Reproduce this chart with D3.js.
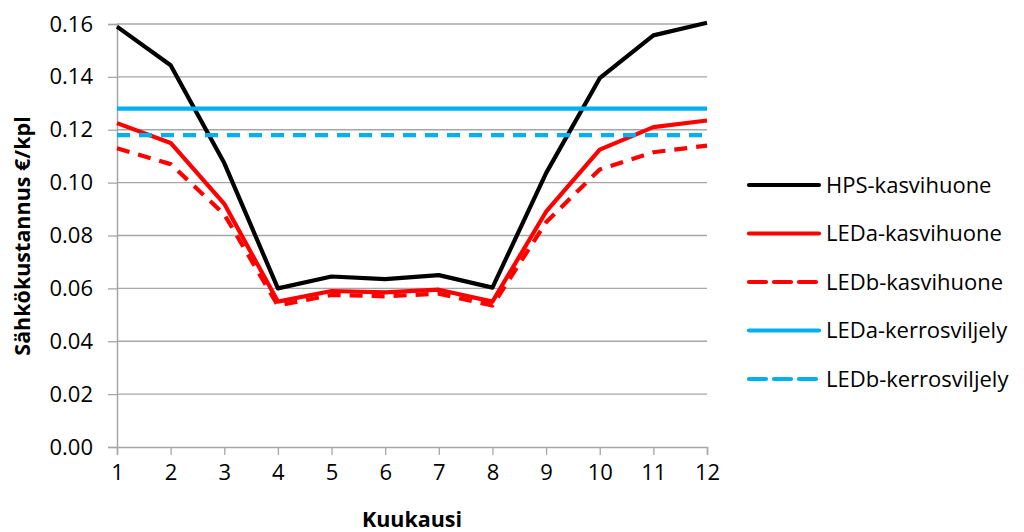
<!DOCTYPE html>
<html><head><meta charset="utf-8">
<script src="https://cdn.jsdelivr.net/npm/d3@7"></script>
<style>body{margin:0;background:#fff}</style>
</head><body>
<svg id="c" width="1024" height="532"></svg>
<script>
const months = [1,2,3,4,5,6,7,8,9,10,11,12];
const hps  = [0.159,0.1444,0.1074,0.0600,0.0645,0.0635,0.0650,0.0603,0.1036,0.1395,0.1557,0.1605];
const ledaK = [0.1225,0.1150,0.0920,0.0550,0.0590,0.0585,0.0595,0.0550,0.0890,0.1125,0.1210,0.1235];
const ledbK = [0.1130,0.1070,0.0880,0.0535,0.0575,0.0570,0.0580,0.0535,0.0850,0.1050,0.1115,0.1140];
const ledaKV = [0.128,0.128,0.128,0.128,0.128,0.128,0.128,0.128,0.128,0.128,0.128,0.128];
const ledbKV = [0.118,0.118,0.118,0.118,0.118,0.118,0.118,0.118,0.118,0.118,0.118,0.118];
const yTicks = [0,0.02,0.04,0.06,0.08,0.10,0.12,0.14,0.16];
const seriesNames = ["HPS-kasvihuone","LEDa-kasvihuone","LEDb-kasvihuone","LEDa-kerrosviljely","LEDb-kerrosviljely"];

(function(){
const series = [
  {name:seriesNames[0], values:hps, color:"#000000", dash:null},
  {name:seriesNames[1], values:ledaK, color:"#FF0000", dash:null},
  {name:seriesNames[2], values:ledbK, color:"#FF0000", dash:"13,9"},
  {name:seriesNames[3], values:ledaKV, color:"#00B0F0", dash:null},
  {name:seriesNames[4], values:ledbKV, color:"#00B0F0", dash:"13,9"}
];

const svg = d3.select("#c");
const pL=117, pR=707, pT=24, pB=447;
const x = d3.scaleLinear().domain([1,12]).range([pL,pR]);
const y = d3.scaleLinear().domain([0,0.16]).range([pB,pT]);
const font = "Open Sans, Liberation Sans, sans-serif";
const grey = "#A6A6A6";
const fs = 22;

svg.append("g").selectAll("line").data(yTicks.slice(1)).join("line")
  .attr("x1",pL).attr("x2",pR).attr("y1",d=>y(d)).attr("y2",d=>y(d))
  .attr("stroke",grey).attr("stroke-width",1.3);

const yAxis = svg.append("g").attr("transform",`translate(${pL},0)`)
  .call(d3.axisLeft(y).tickValues(yTicks).tickFormat(d3.format(".2f")).tickSize(9).tickPadding(15));
yAxis.select(".domain").attr("stroke",grey).attr("stroke-width",1.5);
yAxis.selectAll(".tick line").attr("stroke",grey).attr("stroke-width",1.3);
yAxis.selectAll("text").attr("font-family",font).attr("font-size",fs).attr("fill","#000");

const xAxis = svg.append("g").attr("transform",`translate(0,${pB})`)
  .call(d3.axisBottom(x).tickValues(months).tickFormat(d3.format("d")).tickSize(8).tickPadding(9));
xAxis.select(".domain").attr("stroke",grey).attr("stroke-width",1.5);
xAxis.selectAll(".tick line").attr("stroke",grey).attr("stroke-width",1.3);
xAxis.selectAll("text").attr("font-family",font).attr("font-size",fs).attr("fill","#000");

const line = d3.line().x((d,i)=>x(months[i])).y(d=>y(d));
svg.append("g").selectAll("path").data(series).join("path")
  .attr("d",d=>line(d.values)).attr("fill","none")
  .attr("stroke",d=>d.color).attr("stroke-width",4.2)
  .attr("stroke-dasharray",d=>d.dash)
  .attr("stroke-linejoin","round");

svg.append("text").attr("transform","translate(22,236) rotate(-90)")
  .attr("text-anchor","middle").attr("dy","0.35em").attr("font-family",font).attr("font-weight","bold")
  .attr("font-size",21.5).text("Sähkökustannus €/kpl");
svg.append("text").attr("x",412).attr("y",527)
  .attr("text-anchor","middle").attr("font-family",font).attr("font-weight","bold")
  .attr("font-size",21.5).text("Kuukausi");

const lg = svg.append("g").selectAll("g").data(series).join("g")
  .attr("transform",(d,i)=>`translate(749,${185+i*48.5})`);
lg.append("line").attr("x1",0).attr("x2",70).attr("y1",0).attr("y2",0)
  .attr("stroke",d=>d.color).attr("stroke-width",4.2)
  .attr("stroke-dasharray",d=>d.dash ? "17,8" : null).attr("stroke-linecap","round");
lg.append("text").attr("x",77).attr("y",0).attr("dy","0.35em")
  .attr("font-family",font).attr("font-size",22).text(d=>d.name);
})();
</script>
</body></html>
